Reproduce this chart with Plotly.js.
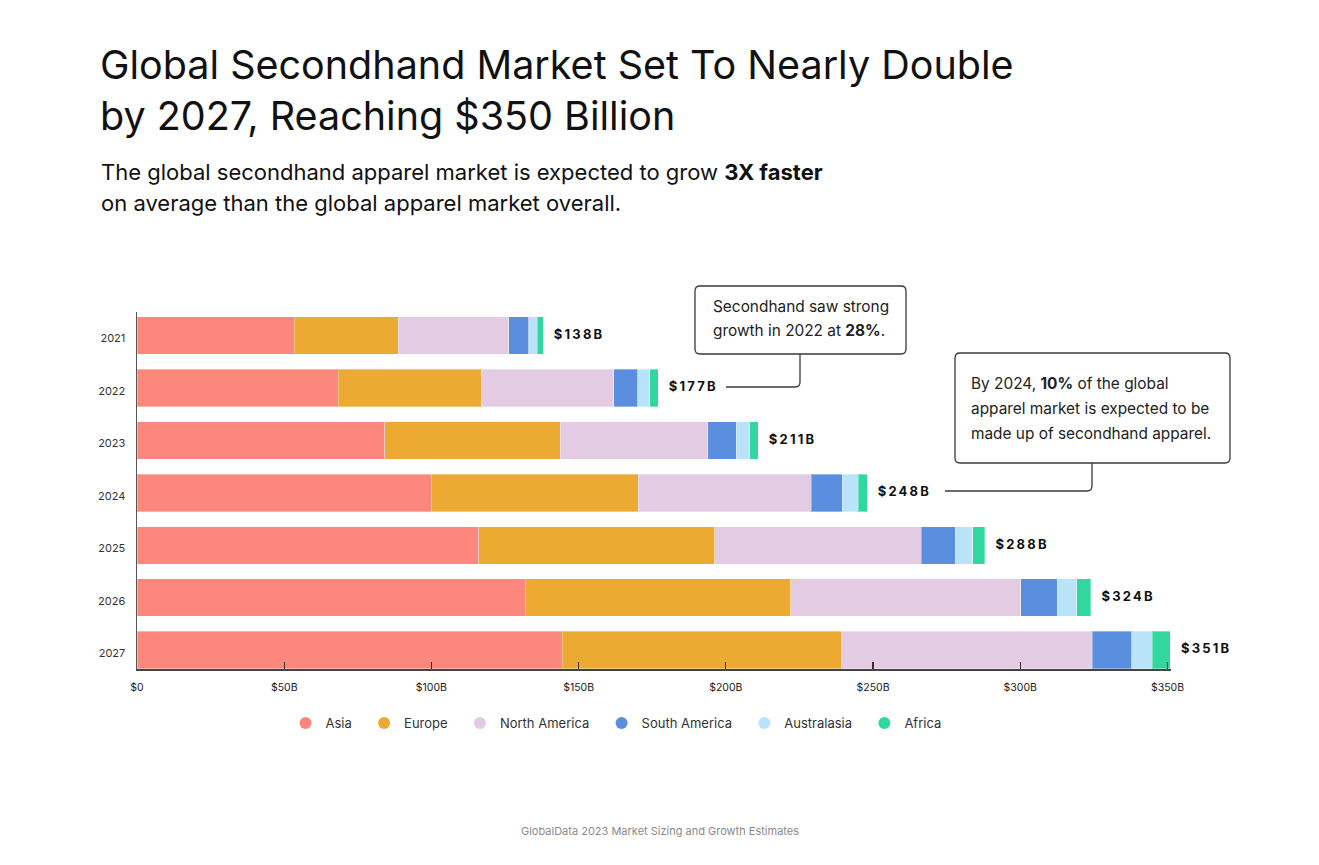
<!DOCTYPE html>
<html>
<head>
<meta charset="utf-8">
<script src="https://cdn.plot.ly/plotly-3.0.1.min.js"></script>
<style>
  html, body { margin: 0; padding: 0; background: #fff; }
  #chart { width: 1319px; height: 865px; }
  .scatterlayer .textpoint text { letter-spacing: 2.2px; }
</style>
</head>
<body>
<div id="chart"></div>
<script>
// Secondhand apparel market by region, $ billions
const years = ['2021', '2022', '2023', '2024', '2025', '2026', '2027'];
const asia         = [53.4, 68.4, 84.2, 100.1, 116.1, 131.9, 144.5];
const europe       = [35.3, 48.7, 59.5, 70.1, 80.2, 90.1, 94.9];
const northAmerica = [37.5, 44.9, 50.2, 58.8, 70.0, 78.2, 85.0];
const southAmerica = [6.8, 8.1, 9.6, 10.6, 11.6, 12.4, 13.5];
const australasia  = [2.9, 4.0, 4.6, 5.3, 6.0, 6.6, 6.9];
const africa       = [2.1, 2.9, 2.9, 3.1, 4.1, 4.8, 6.2];
const totals       = [138, 177, 211, 248, 288, 324, 351];

const xTickVals  = [0, 50, 100, 150, 200, 250, 300, 350];
const xTickTexts = ['$0', '$50B', '$100B', '$150B', '$200B', '$250B', '$300B', '$350B'];

const regions = [
  { name: 'Asia',          values: asia,         color: '#FD877D' },
  { name: 'Europe',        values: europe,       color: '#ECAA32' },
  { name: 'North America', values: northAmerica, color: '#E3CBE3' },
  { name: 'South America', values: southAmerica, color: '#5A8FDF' },
  { name: 'Australasia',   values: australasia,  color: '#B8E3F8' },
  { name: 'Africa',        values: africa,       color: '#30D8A0' }
];

const FONT = 'Inter, "Open Sans", Arial, sans-serif';

// plot area in pixels (used to place callouts and captions)
const W = 1319, H = 865;
const X_MAX = 351.2;
const M = { l: 137, r: 148, t: 312, b: 196 };
const PW = W - M.l - M.r, PH = H - M.t - M.b;
const px = v => (v - M.l) / PW;
const py = v => (H - M.b - v) / PH;

const traces = [];

regions.forEach(r => {
  traces.push({
    type: 'bar',
    orientation: 'h',
    name: r.name,
    y: years,
    x: r.values,
    marker: { color: r.color, line: { color: 'rgba(255,255,255,0.35)', width: 1 } },
    showlegend: false,
    hoverinfo: 'x+name'
  });
});

// legend entries drawn as round dots (trailing spaces widen the gap between entries)
regions.forEach((r, i) => {
  traces.push({
    type: 'scatter',
    mode: 'markers',
    name: r.name + (i < regions.length - 1 ? '\u00a0\u00a0' : ''),
    x: [null],
    y: [null],
    marker: { color: r.color, size: 12, symbol: 'circle' },
    showlegend: true,
    hoverinfo: 'skip'
  });
});

// total labels at the end of each bar
traces.push({
  type: 'scatter',
  mode: 'text',
  x: totals,
  y: years,
  text: totals.map(v => '\u00a0\u00a0$' + v + 'B'),
  textposition: 'middle right',
  textfont: { family: FONT, size: 13, color: '#111', weight: 700 },
  showlegend: false,
  hoverinfo: 'skip',
  cliponaxis: false
});

function roundRect(x0, y0, x1, y1, r) {
  const p = [
    ['M', x0 + r, y0], ['L', x1 - r, y0], ['Q', x1, y0, x1, y0 + r],
    ['L', x1, y1 - r], ['Q', x1, y1, x1 - r, y1], ['L', x0 + r, y1],
    ['Q', x0, y1, x0, y1 - r], ['L', x0, y0 + r], ['Q', x0, y0, x0 + r, y0]
  ];
  return p.map(seg => {
    const cmd = seg[0];
    const pts = [];
    for (let i = 1; i < seg.length; i += 2) pts.push(px(seg[i]) + ',' + py(seg[i + 1]));
    return cmd + pts.join(' ');
  }).join(' ') + ' Z';
}

function elbow(xStart, yLine, xCorner, yEnd, r) {
  return 'M' + px(xStart) + ',' + py(yLine) +
    ' L' + px(xCorner - r) + ',' + py(yLine) +
    ' Q' + px(xCorner) + ',' + py(yLine) + ' ' + px(xCorner) + ',' + py(yLine - r) +
    ' L' + px(xCorner) + ',' + py(yEnd);
}

const lineStyle = { color: '#3a3a3a', width: 1.3 };

const shapes = [
  { type: 'path', xref: 'paper', yref: 'paper', path: roundRect(695, 286, 906, 354, 5), line: lineStyle, fillcolor: 'rgba(0,0,0,0)' },
  { type: 'path', xref: 'paper', yref: 'paper', path: elbow(726, 387, 800, 354, 5), line: lineStyle },
  { type: 'path', xref: 'paper', yref: 'paper', path: roundRect(955, 353, 1230, 463, 5), line: lineStyle, fillcolor: 'rgba(0,0,0,0)' },
  { type: 'path', xref: 'paper', yref: 'paper', path: elbow(945, 491, 1092, 463, 5), line: lineStyle }
];

function textLine(text, x, y, size, color, anchor) {
  return {
    xref: 'paper', yref: 'paper', x: px(x), y: py(y),
    xanchor: anchor || 'left', yanchor: 'middle', align: anchor === 'center' ? 'center' : 'left',
    showarrow: false, text: text, borderpad: 0,
    font: { family: FONT, size: size, color: color }
  };
}

const annotations = [
  textLine('The global secondhand apparel market is expected to grow <b>3X faster</b>', 100, 172, 22, '#111'),
  textLine('on average than the global apparel market overall.', 100, 203, 22, '#111'),
  textLine('Secondhand saw strong', 712, 306, 15.4, '#222'),
  textLine('growth in 2022 at <b>28%</b>.', 712, 330, 15.4, '#222'),
  textLine('By 2024, <b>10%</b> of the global', 970, 383, 15.4, '#222'),
  textLine('apparel market is expected to be', 970, 408, 15.4, '#222'),
  textLine('made up of secondhand apparel.', 970, 433, 15.4, '#222'),
  textLine('GlobalData 2023 Market Sizing and Growth Estimates', 660, 831, 11, '#8a8a8a', 'center')
];

const layout = {
  width: W,
  height: H,
  margin: M,
  paper_bgcolor: '#fff',
  plot_bgcolor: '#fff',
  font: { family: FONT, color: '#222' },
  title: {
    text: 'Global Secondhand Market Set To Nearly Double<br>by 2027, Reaching $350 Billion',
    font: { family: FONT, size: 39.5, color: '#111' },
    xref: 'container', yref: 'container',
    x: 100 / W, xanchor: 'left',
    y: 1 - 79 / H, yanchor: 'top'
  },
  barmode: 'stack',
  bargap: 0.286,
  xaxis: {
    range: [0, X_MAX],
    tickvals: xTickVals,
    ticktext: xTickTexts,
    ticks: 'inside',
    ticklen: 7,
    tickwidth: 1.3,
    tickcolor: '#333',
    showline: true,
    linecolor: '#444',
    linewidth: 1.5,
    showgrid: false,
    zeroline: false,
    ticklabelstandoff: 8,
    tickfont: { family: FONT, size: 10.5, color: '#222' },
    fixedrange: true
  },
  yaxis: {
    type: 'category',
    categoryorder: 'array',
    categoryarray: years,
    range: [6.36, -0.45],
    showline: true,
    linecolor: '#555',
    linewidth: 1.5,
    showgrid: false,
    zeroline: false,
    ticks: '',
    ticklabelstandoff: 8,
    ticklabelshift: -3,
    tickfont: { family: FONT, size: 11, color: '#333' },
    fixedrange: true
  },
  legend: {
    orientation: 'h',
    traceorder: 'normal',
    x: px(616), xanchor: 'center',
    y: py(723), yanchor: 'middle',
    font: { family: FONT, size: 13, color: '#333' },
    itemclick: false,
    itemdoubleclick: false
  },
  shapes: shapes,
  annotations: annotations,
  showlegend: true
};

Plotly.newPlot('chart', traces, layout, { displayModeBar: false, staticPlot: true });
</script>
</body>
</html>
